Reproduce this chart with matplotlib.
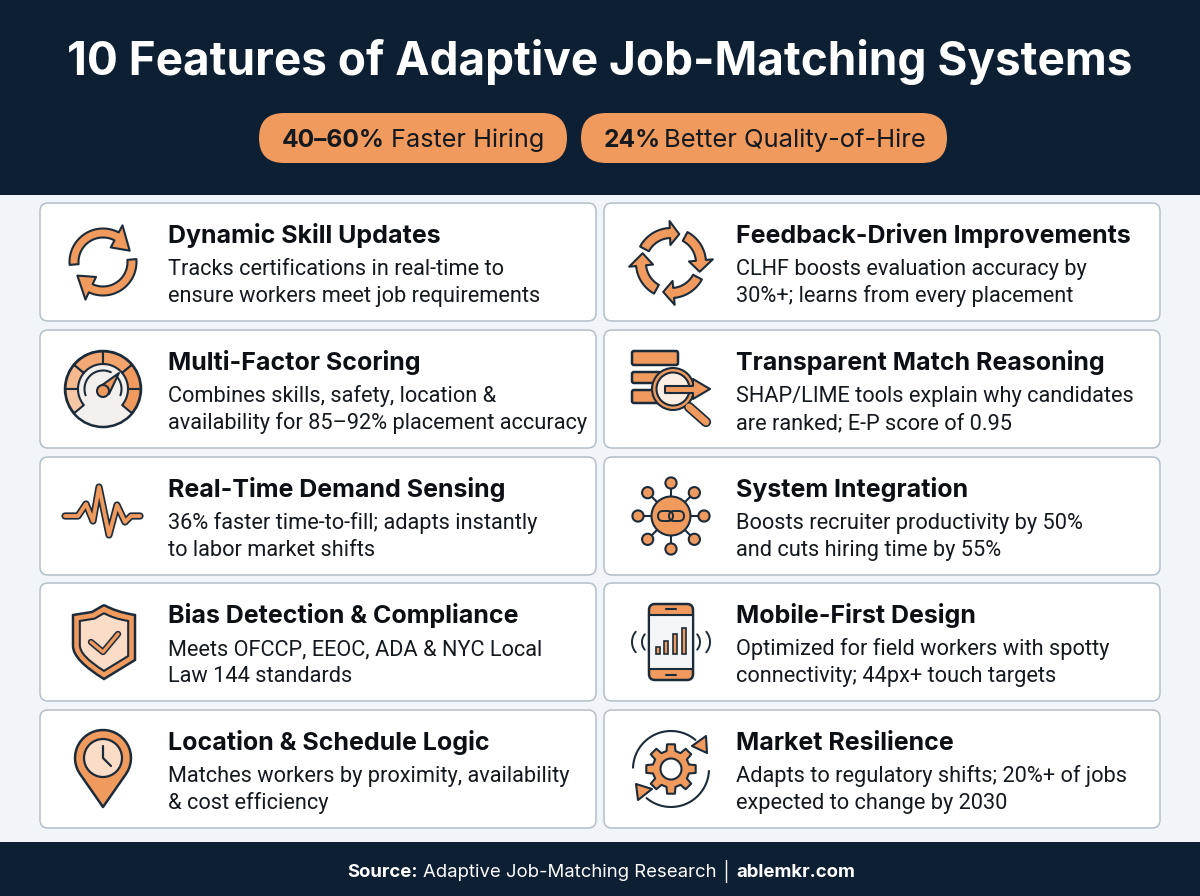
import numpy as np
import matplotlib
matplotlib.use("Agg")
import matplotlib.pyplot as plt
from matplotlib.patches import Rectangle, FancyBboxPatch, Circle, Polygon, PathPatch
from matplotlib.path import Path

plt.rcParams['font.family'] = ['Inter', 'DejaVu Sans']

# chart content
main_title = "10 Features of Adaptive Job-Matching Systems"
left_titles = ["Dynamic Skill Updates", "Multi-Factor Scoring", "Real-Time Demand Sensing",
               "Bias Detection & Compliance", "Location & Schedule Logic"]
left_line1 = ["Tracks certifications in real-time to", "Combines skills, safety, location &",
              "36% faster time-to-fill; adapts instantly", "Meets OFCCP, EEOC, ADA & NYC Local",
              "Matches workers by proximity, availability"]
left_line2 = ["ensure workers meet job requirements", "availability for 85–92% placement accuracy",
              "to labor market shifts", "Law 144 standards", "& cost efficiency"]
right_titles = ["Feedback-Driven Improvements", "Transparent Match Reasoning", "System Integration",
                "Mobile-First Design", "Market Resilience"]
right_line1 = ["CLHF boosts evaluation accuracy by", "SHAP/LIME tools explain why candidates",
               "Boosts recruiter productivity by 50%", "Optimized for field workers with spotty",
               "Adapts to regulatory shifts; 20%+ of jobs"]
right_line2 = ["30%+; learns from every placement", "are ranked; E-P score of 0.95",
               "and cuts hiring time by 55%", "connectivity; 44px+ touch targets",
               "expected to change by 2030"]

NAVY = "#0d1f33"
ORANGE = "#f09a5e"
LIGHT = "#fbdcc6"
DARK = "#1c2b3a"
INK = "#14181f"

fig = plt.figure(figsize=(12, 8.96), dpi=100, facecolor="#f1f5fa")
ax = fig.add_axes([0, 0, 1, 1])
ax.set_xlim(0, 1200)
ax.set_ylim(896, 0)
ax.axis("off")


def poly(pts, fc=ORANGE, ec=DARK, lw=1.5, z=4):
    ax.add_patch(Polygon(pts, closed=True, fc=fc, ec=ec, lw=lw, joinstyle="round", zorder=z))


def circ(x, y, r, fc=ORANGE, ec=DARK, lw=1.5, z=4):
    ax.add_patch(Circle((x, y), r, fc=fc, ec=ec, lw=lw, zorder=z))


def rrect(x0, y0, x1, y1, r, fc=ORANGE, ec=DARK, lw=1.5, z=4):
    ax.add_patch(FancyBboxPatch((x0 + r, y0 + r), x1 - x0 - 2 * r, y1 - y0 - 2 * r,
                                boxstyle=f"round,pad={r},rounding_size={r}",
                                fc=fc, ec=ec, lw=lw, zorder=z))


def line(xs, ys, color=DARK, lw=1.5, z=5):
    ax.plot(xs, ys, color=color, lw=lw, solid_capstyle="round", solid_joinstyle="round", zorder=z)


def pol(cx, cy, r, a):
    a = np.radians(a)
    return cx + r * np.cos(a), cy - r * np.sin(a)


def arc_pts(cx, cy, r, a0, a1, n=30):
    return [pol(cx, cy, r, a) for a in np.linspace(a0, a1, n)]


def arc_line(cx, cy, r, a0, a1, color=DARK, lw=1.5, z=5):
    p = np.array(arc_pts(cx, cy, r, a0, a1))
    line(p[:, 0], p[:, 1], color, lw, z)


def arc_arrow(cx, cy, r, w, a0, base, tip, head_w):
    pts = arc_pts(cx, cy, r + w / 2, a0, base)
    pts.append(pol(cx, cy, r + head_w / 2, base))
    pts.append(pol(cx, cy, r, tip))
    pts.append(pol(cx, cy, r - head_w / 2, base))
    pts += arc_pts(cx, cy, r - w / 2, base, a0)
    poly(pts)


def ring_seg(cx, cy, r0, r1, a0, a1, fc):
    poly(arc_pts(cx, cy, r1, a0, a1) + arc_pts(cx, cy, r0, a1, a0), fc=fc)


def icon_sync(cx, cy):
    arc_arrow(cx, cy, 29, 9, 185, 62, 23, 25)
    arc_arrow(cx, cy, 29, 9, 5, -115, -152, 25)


def icon_gauge(cx, cy):
    circ(cx, cy, 38, fc="#f3efec", lw=1.8)
    ring_seg(cx, cy, 25, 37.5, 180, 140, "#f6b98e")
    ring_seg(cx, cy, 25, 37.5, 140, 90, "#f4a873")
    ring_seg(cx, cy, 25, 37.5, 90, 40, "#f3a36c")
    ring_seg(cx, cy, 25, 37.5, 40, 0, "#f09a5e")
    ring_seg(cx, cy, 25, 37.5, 0, -40, "#f09a5e")
    ring_seg(cx, cy, 25, 37.5, 180, 220, "#f7c8a6")
    arc_line(cx, cy, 18.5, 200, 65)
    arc_line(cx, cy, 18.5, 45, -20)
    poly([(cx + 16, cy - 16), (cx + 6, cy + 5), (cx - 5, cy - 1)])
    circ(cx, cy + 2, 6)


def icon_pulse(cx, cy):
    xs = np.array([-38, -25, -17, -10, -4, 6, 14, 22, 28, 37])
    ys = np.array([0, 0, -12, 5, -29, 19, -11, 6, 0, 0])
    line(cx + xs, cy + ys, DARK, 5.2, 4)
    line(cx + xs, cy + ys, ORANGE, 2.8, 5)


def shield_path(cx, cy, s):
    v = [(0, -37), (12 , -30), (31, -27), (31, -27), (31, 4), (31, 4), (31, 18), (0, 37), (0, 37),
         (-31, 18), (-31, 4), (-31, 4), (-31, -27), (-31, -27), (-12, -30), (0, -37), (0, -37)]
    verts = [(cx + s * a, cy + s * b) for a, b in v]
    codes = [Path.MOVETO] + [Path.CURVE3, Path.CURVE3] * 8
    return Path(verts, codes)


def icon_shield(cx, cy):
    ax.add_patch(PathPatch(shield_path(cx + 1, cy, 1), fc=ORANGE, ec=DARK, lw=1.8, zorder=4))
    ax.add_patch(PathPatch(shield_path(cx + 1, cy, 0.78), fc=LIGHT, ec=DARK, lw=1.5, zorder=4))
    line([cx - 12, cx, cx + 15], [cy, cy + 10, cy - 8], DARK, 4.6, 5)
    line([cx - 12, cx, cx + 15], [cy, cy + 10, cy - 8], ORANGE, 2.4, 6)


def icon_pin(cx, cy):
    c = np.array(arc_pts(cx, cy - 11, 28, 215, -35))
    poly(list(map(tuple, c)) + [(cx, cy + 38)], lw=1.8)
    circ(cx, cy - 11, 19, fc=LIGHT, lw=1.6)
    line([cx, cx, cx + 8], [cy - 23, cy - 11, cy - 3], DARK, 1.6)


def icon_cycle(cx, cy):
    arc_arrow(cx, cy + 1, 30, 10, 152, 92, 74, 24)
    arc_arrow(cx, cy + 1, 30, 10, 62, 5, -17, 24)
    arc_arrow(cx, cy + 1, 30, 10, -28, -85, -105, 24)
    arc_arrow(cx, cy + 1, 30, 10, -119, -175, -199, 24)


def icon_search(cx, cy):
    rrect(cx - 39, cy - 38, cx + 7, cy - 24, 2, lw=1.8)
    rrect(cx - 39, cy - 17, cx - 10, cy - 6, 2, lw=1.8)
    rrect(cx - 39, cy + 1, cx - 10, cy + 14, 2, lw=1.8)
    line([cx + 18, cx + 35], [cy + 18, cy + 33], DARK, 7.4, 5)
    line([cx + 18, cx + 35], [cy + 18, cy + 33], ORANGE, 5, 6)
    circ(cx + 2, cy, 21, fc=ORANGE, z=5)
    circ(cx + 2, cy, 16.5, fc="#fdeee3", z=5)
    poly([(cx - 6, cy - 3), (cx + 22, cy - 3), (cx + 22, cy - 10), (cx + 39, cy), (cx + 22, cy + 10),
          (cx + 22, cy + 4), (cx - 6, cy + 4)], lw=1.5, z=6)


def icon_network(cx, cy):
    for a in range(0, 360, 45):
        x, y = pol(cx, cy, 33, a)
        line([cx, x], [cy, y], DARK, 1.5, 3)
        circ(x, y, 5.6)
    circ(cx, cy, 19.5)
    rrect(cx - 13, cy - 5, cx + 2, cy + 5, 5, fc="none", lw=1.4, z=5)
    rrect(cx - 2, cy - 5, cx + 13, cy + 5, 5, fc="none", lw=1.4, z=5)


def icon_phone(cx, cy):
    rrect(cx - 22, cy - 38, cx + 22, cy + 38, 6, lw=1.8)
    ax.add_patch(Rectangle((cx - 22, cy - 27), 44, 54, fc="#f3f5f7", ec=DARK, lw=1.5, zorder=5))
    line([cx - 5, cx + 5], [cy - 33, cy - 33], DARK, 1.5, 6)
    line([cx - 5, cx + 5], [cy + 33, cy + 33], DARK, 1.5, 6)
    for x, h in zip([-13, -5, 4, 13], [7, 13, 20, 26]):
        ax.add_patch(Rectangle((cx + x - 2.4, cy + 12 - h), 4.8, h, fc=ORANGE, ec=DARK, lw=1.2, zorder=6))
    for extreme, r in [(29, 12), (39, 16)]:
        arc_line(cx + extreme - r, cy, r, 40, -40, DARK, 1.4)
        arc_line(cx - extreme + r, cy, r, 140, 220, DARK, 1.4)


def icon_gear(cx, cy):
    arc_line(cx, cy, 38, 178, 50)
    arc_line(cx, cy, 38, -3, -130)
    poly([(cx + 35, cy - 33), (cx + 36, cy - 16), (cx + 21, cy - 23)])
    poly([(cx - 35, cy + 15), (cx - 19, cy + 20), (cx - 33, cy + 31)])
    pts = []
    for k in range(8):
        a = k * 45
        pts += [pol(cx, cy, 18.5, a - 14), pol(cx, cy, 25, a - 9), pol(cx, cy, 25, a + 9), pol(cx, cy, 18.5, a + 14)]
    poly(pts, lw=1.5)
    circ(cx, cy, 10.5, fc="white", lw=1.5, z=5)


left_icons = [icon_sync, icon_gauge, icon_pulse, icon_shield, icon_pin]
right_icons = [icon_cycle, icon_search, icon_network, icon_phone, icon_gear]

# header and footer bands
ax.add_patch(Rectangle((0, 0), 1200, 195, fc=NAVY, ec="none", zorder=1))
ax.add_patch(Rectangle((0, 842), 1200, 54, fc=NAVY, ec="none", zorder=1))
ax.text(600, 62, main_title, color="white", fontsize=33.05, fontweight="bold",
        ha="center", va="center", zorder=3)

# stat pills
rrect(259, 113, 567, 163, 25, fc=ORANGE, ec="none", lw=0, z=2)
rrect(581, 113, 947, 163, 25, fc=ORANGE, ec="none", lw=0, z=2)
for x, s, w, fs in [(282, "40–60%", "bold", 17.7), (391, "Faster Hiring", "normal", 18.2),
                    (604, "24%", "bold", 17.7), (664, "Better Quality-of-Hire", "normal", 18.4)]:
    ax.text(x, 147, s, color=INK, fontsize=fs, fontweight=w, ha="left", va="baseline", zorder=3)

# cards
card_tops = [203, 330, 457, 583, 710]
columns = [(40, 596, 103, 168, left_titles, left_line1, left_line2, left_icons),
           (604, 1160, 671, 736, right_titles, right_line1, right_line2, right_icons)]
for x0, x1, icon_x, text_x, titles, l1, l2, icons in columns:
    for i, top in enumerate(card_tops):
        rrect(x0, top, x1, top + 118, 8, fc="white", ec="#b4bec8", lw=1.1, z=2)
        icons[i](icon_x, top + 59)
        ax.text(text_x, top + 40, titles[i], color="#0c0f14", fontsize=18.0, fontweight="bold",
                ha="left", va="baseline", zorder=3)
        ax.text(text_x, top + 72, l1[i], color=INK, fontsize=15.7, family="Roboto",
                ha="left", va="baseline", zorder=3)
        ax.text(text_x, top + 99, l2[i], color=INK, fontsize=15.7, family="Roboto",
                ha="left", va="baseline", zorder=3)

# footer
for x, s, w in [(347, "Source:", "bold"), (423, "Adaptive Job-Matching Research", "normal"),
                (736, "ablemkr.com", "bold")]:
    ax.text(x, 877, s, color="white", fontsize=13.35, fontweight=w, ha="left", va="baseline", zorder=3)
line([726, 726], [860, 882], "white", 1.0, 3)

fig.savefig("out.png", dpi=100, facecolor=fig.get_facecolor())
